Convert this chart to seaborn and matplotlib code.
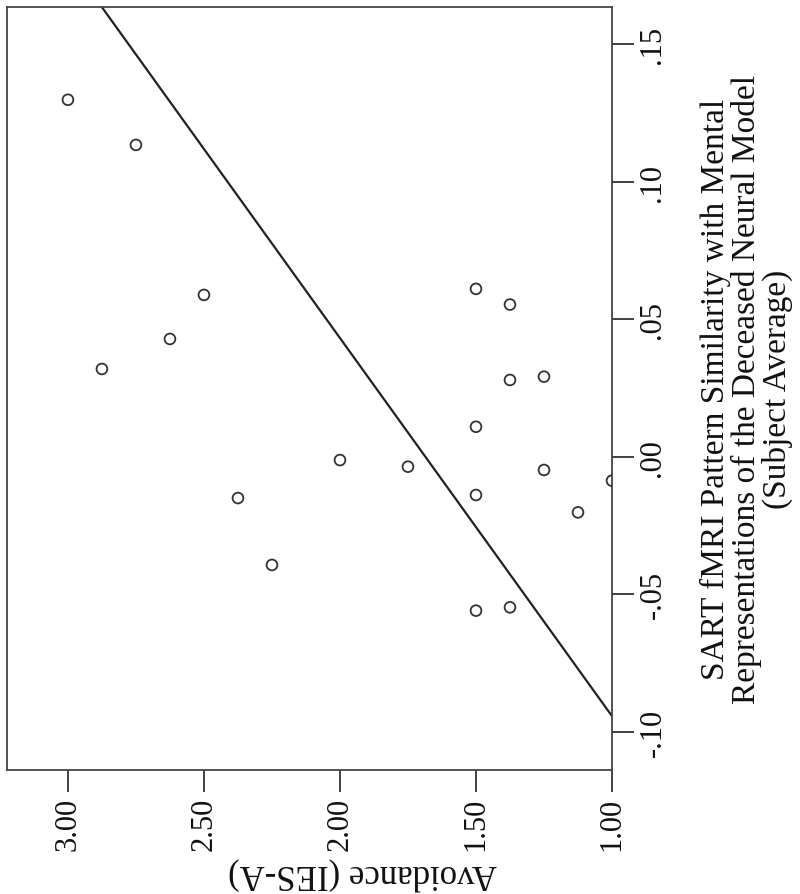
import numpy as np
import matplotlib
matplotlib.use("Agg")
import matplotlib.pyplot as plt
import seaborn as sns
import pandas as pd

# Data read from the (rotated) reference chart
avoidance = [3.000, 2.750, 2.875, 2.625, 2.500, 2.000, 2.375, 2.250, 1.750,
             1.500, 1.375, 1.375, 1.250, 1.500, 1.250, 1.500, 1.125, 1.000,
             1.500, 1.375]
similarity = [0.1297, 0.1133, 0.0319, 0.0428, 0.0588, -0.0012, -0.0150, -0.0393,
              -0.0036, 0.0610, 0.0553, 0.0279, 0.0291, 0.0109, -0.0048, -0.0139,
              -0.0202, -0.0087, -0.0559, -0.0547]

# Fit line (Avoidance = intercept + slope * Similarity)
fit_intercept = 1.686
fit_slope = 7.28

avoid_ticks = [1.00, 1.50, 2.00, 2.50, 3.00]
avoid_ticklabels = ["1.00", "1.50", "2.00", "2.50", "3.00"]
sim_ticks = [-0.10, -0.05, 0.00, 0.05, 0.10, 0.15]
sim_ticklabels = ["-.10", "-.05", ".00", ".05", ".10", ".15"]

x_label = "Avoidance (IES-A)"
y_label = ("SART fMRI Pattern Similarity with Mental\n"
           "Representations of the Deceased Neural Model\n"
           "(Subject Average)")

sns.set_theme(style="white")
plt.rcParams['font.family'] = ['Liberation Serif', 'DejaVu Serif']

fig = plt.figure(figsize=(8, 8.95), dpi=100)
ax = fig.add_axes([7 / 800, 1 - 771 / 895, 605 / 800, 763 / 895])

df = pd.DataFrame({"avoid": avoidance, "sim": similarity})
sns.scatterplot(data=df, x="avoid", y="sim", ax=ax, marker="o", s=60,
                facecolors="none", edgecolors="#333333", linewidths=1.3,
                zorder=3, legend=False)

ylim = (-0.1138, 0.1634)
sim_line = np.array(ylim)
avoid_line = fit_intercept + fit_slope * sim_line
ax.plot(avoid_line, sim_line, color="#222222", lw=1.6, zorder=2)

ax.set_xlim(3.224, 1.0)
ax.set_ylim(*ylim)

ax.yaxis.tick_right()
ax.yaxis.set_label_position("right")
ax.set_xticks(avoid_ticks)
ax.set_xticklabels(avoid_ticklabels, rotation=90, va="top", ha="center")
ax.set_yticks(sim_ticks)
ax.set_yticklabels(sim_ticklabels, rotation=90, va="center", ha="left")

ax.tick_params(axis="x", bottom=True, top=False, direction="out", length=16,
               width=1.3, color="#333333", labelcolor="#111111",
               labelsize=22, pad=3)
ax.tick_params(axis="y", right=True, left=False, direction="out", length=16,
               width=1.3, color="#333333", labelcolor="#111111",
               labelsize=22, pad=3)

for sp in ax.spines.values():
    sp.set_color("#444444")
    sp.set_linewidth(1.3)

ax.set_xlabel(x_label, rotation=180, fontsize=25, color="#111111")
ax.xaxis.set_label_coords(0.587, -0.112)
ax.set_ylabel(y_label, rotation=90, fontsize=24, color="#111111",
              linespacing=1.0, multialignment="center")
ax.yaxis.set_label_coords(1.145, 0.5)

fig.savefig("out.png", dpi=100)
